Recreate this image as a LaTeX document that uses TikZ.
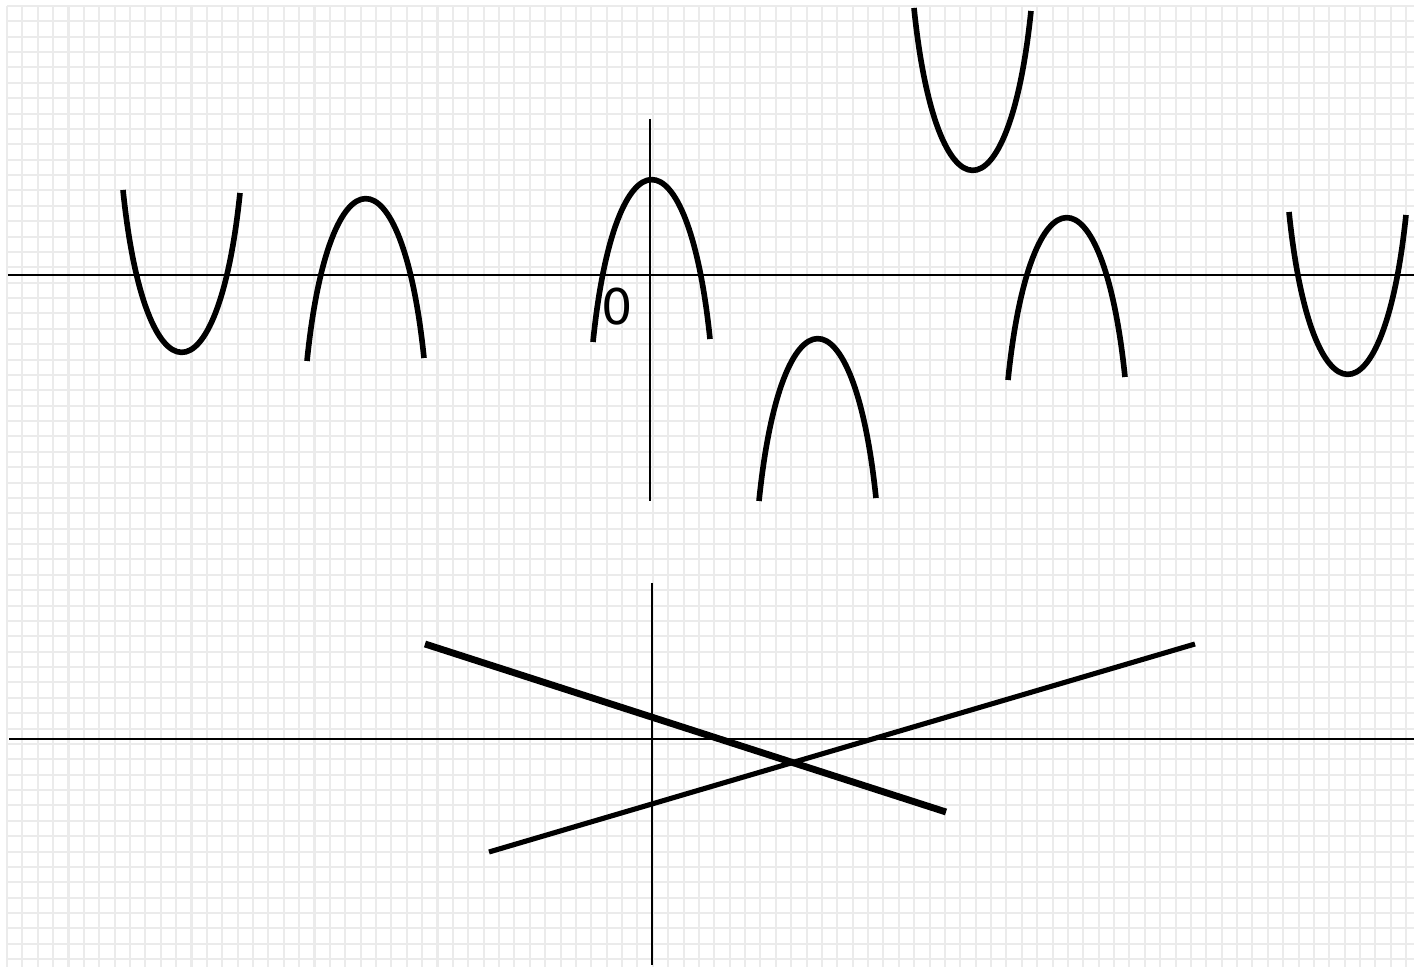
\documentclass[tikz,border=0pt]{standalone}
\usepackage{fontspec}
\setsansfont{DejaVu Sans}
\definecolor{gridline}{HTML}{EBEBEB}
\definecolor{ink}{HTML}{000000}
% one U or one cap, given by its vertex (in pixels, y going down)
\newcommand{\cupcurve}[2]{%
  \draw[curve] (#1-57,#2-162) .. controls (#1-35,#2+54) and (#1+38,#2+54) .. (#1+60,#2-159);%
}
\newcommand{\capcurve}[2]{%
  \draw[curve] (#1-57,#2+162) .. controls (#1-35,#2-54) and (#1+38,#2-54) .. (#1+60,#2+159);%
}

\begin{document}
\begin{tikzpicture}[x=0.01cm, y=-0.01cm,
    gridrule/.style={gridline, line width=0.57pt},
    axis/.style={ink, line width=0.5pt},
    curve/.style={ink, line width=1.6pt},
    thinline/.style={ink, line width=1.45pt},
    thickline/.style={ink, line width=1.95pt}]
  \useasboundingbox (0,0) rectangle (1414,967);
  \fill[white] (0,0) rectangle (1414,967);
  % squared paper
  \foreach \i in {0,...,91}
    \draw[gridrule] (7+\i*15.375,6) -- (7+\i*15.375,967);
  \foreach \j in {0,...,62}
    \draw[gridrule] (7,6+\j*15.375) -- (1414,6+\j*15.375);

  % upper axes
  \coordinate (xa1) at (8,275);
  \coordinate (xa2) at (1414,275);
  \coordinate (ya1) at (650,119);
  \coordinate (ya2) at (650,501);
  \draw[axis] (xa1) -- (xa2);
  \draw[axis] (ya1) -- (ya2);
  \node[font=\sffamily\fontsize{14}{14}\selectfont, inner sep=0pt] (origin) at (617,307) {0};

  \cupcurve{180}{352}
  \capcurve{364}{199}
  \capcurve{650}{180}
  \capcurve{816}{339}
  \cupcurve{971}{170}
  \capcurve{1065}{218}
  \cupcurve{1346}{374}

  % lower axes
  \coordinate (xb1) at (9,739);
  \coordinate (xb2) at (1414,739);
  \coordinate (yb1) at (652,583);
  \coordinate (yb2) at (652,965);
  \draw[axis] (xb1) -- (xb2);
  \draw[axis] (yb1) -- (yb2);

  \coordinate (la) at (425,644);
  \coordinate (lb) at (946,812);
  \coordinate (ma) at (489,852);
  \coordinate (mb) at (1195,644);
  \draw[thickline] (la) -- (lb);
  \draw[thinline] (ma) -- (mb);
\end{tikzpicture}
\end{document}
